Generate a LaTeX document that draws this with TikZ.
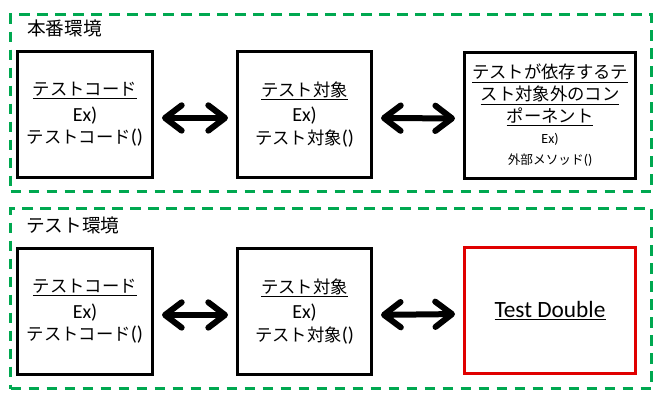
\documentclass[tikz,border=0pt]{standalone}
\usepackage{fontspec}
\newfontfamily\jp{Noto Sans CJK JP}
\newfontfamily\lat{Carlito}
\usetikzlibrary{arrows.meta}
\definecolor{envgreen}{RGB}{0,168,80}
\definecolor{dblred}{RGB}{224,0,0}
\newcommand{\latbig}{\lat\fontsize{15}{17}\selectfont}
\begin{document}
\begin{tikzpicture}[x=0.75pt,y=-0.75pt,
  env/.style={draw=envgreen, line width=2.25pt, dash pattern=on 8pt off 5.5pt, minimum width=480.75pt, inner sep=0pt},
  envlabel/.style={anchor=west, inner sep=0pt, font=\jp\fontsize{14}{17}\selectfont},
  box/.style={draw, line width=2.25pt, minimum height=94.5pt, align=center, inner sep=0pt, font=\fontsize{13}{17}\selectfont},
  biarrow/.style={line width=4.5pt, {Straight Barb[length=12.5pt,width=19pt,round]}-{Straight Barb[length=12.5pt,width=19pt,round]}, shorten <=6pt, shorten >=6pt}
]
\useasboundingbox (0,0) rectangle (667,405);

% environments
\node[env, minimum height=132.75pt] (prod) at (331,103) {};
\node[env, minimum height=135pt] (test) at (331,298.5) {};
\node[envlabel] (prodlabel) at (27,28) {本番環境};
\node[envlabel] (testlabel) at (26,225) {テスト環境};

% production boxes
\node[box, minimum width=101.25pt] (pcode) at (85,114.5)
  {{\jp\underline{テストコード}}\\[2pt]{\latbig Ex)}\\{\jp テストコード}{\latbig ()}};
\node[box, minimum width=100.5pt] (ptarget) at (304.5,114.5)
  {{\jp\underline{テスト対象}}\\[2pt]{\latbig Ex)}\\{\jp テスト対象}{\latbig ()}};
\node[box, minimum width=128.25pt] (pdep) at (550,115)
  {{\jp\underline{テストが依存するテ}}\\[-0.5pt]
   {\jp\underline{スト対象外のコン}}\\[-0.5pt]
   {\jp\underline{ポーネント}}\\[-1.5pt]
   {\fontsize{10.5}{11}\selectfont\lat Ex)}\\[-1.5pt]
   {\fontsize{9.5}{11}\selectfont\jp 外部メソッド{\lat\fontsize{10.5}{11}\selectfont ()}}};

% test boxes
\node[box, minimum width=101.25pt] (tcode) at (85,311.5)
  {{\jp\underline{テストコード}}\\[2pt]{\latbig Ex)}\\{\jp テストコード}{\latbig ()}};
\node[box, minimum width=100.5pt] (ttarget) at (304.5,311.5)
  {{\jp\underline{テスト対象}}\\[2pt]{\latbig Ex)}\\{\jp テスト対象}{\latbig ()}};
\node[box, draw=dblred, minimum width=128.25pt] (double) at (550,310.5)
  {{\lat\fontsize{17.5}{20}\selectfont\underline{Test Double}}};

% connectors
\draw[biarrow] ([yshift=-2.6pt]pcode.east) -- ([yshift=-2.6pt]ptarget.west);
\draw[biarrow] ([yshift=-2.6pt]ptarget.east) -- ([yshift=-2.6pt]pdep.west);
\draw[biarrow] ([yshift=-2.6pt]tcode.east) -- ([yshift=-2.6pt]ttarget.west);
\draw[biarrow] ([yshift=-2.6pt]ttarget.east) -- ([yshift=-2.6pt]double.west);
\end{tikzpicture}
\end{document}
